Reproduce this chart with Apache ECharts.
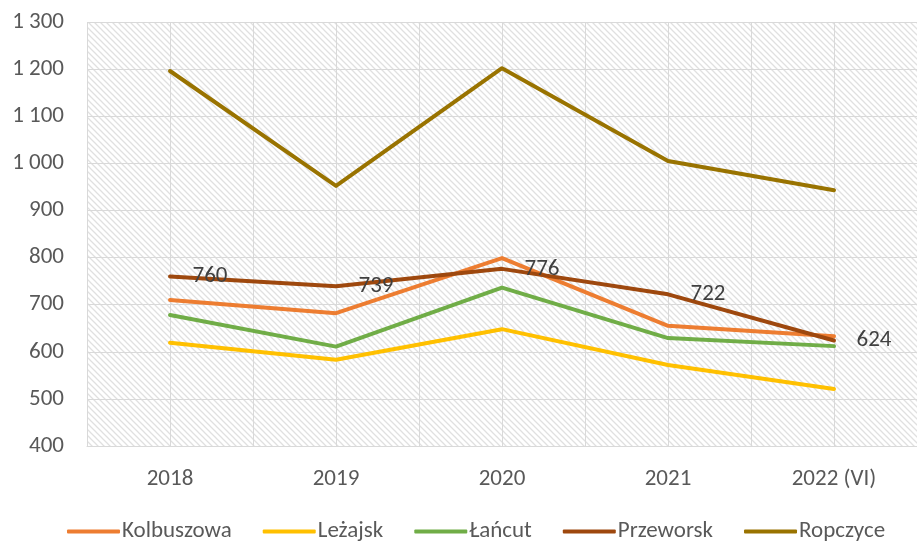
<!DOCTYPE html>
<html>
<head>
<meta charset="utf-8">
<script src="https://cdn.jsdelivr.net/npm/echarts@6/dist/echarts.min.js"></script>
<style>
  html, body { margin: 0; padding: 0; background: #fff; }
  #chart { width: 917px; height: 541px; }
</style>
</head>
<body>
<div id="chart"></div>
<script>
const years = ['2018', '2019', '2020', '2021', '2022 (VI)'];
const kolbuszowa = [710, 682, 799, 655, 633];
const lezajsk = [619, 583, 648, 572, 521];
const lancut = [678, 611, 736, 629, 612];
const przeworsk = [760, 739, 776, 722, 624];
const ropczyce = [1196, 952, 1202, 1005, 943];

const font = 'Carlito, Lato, "Liberation Sans", sans-serif';
const fsize = 23;

// ukośne kreskowanie tła wykresu
function hatch() {
  const c = document.createElement('canvas');
  c.width = 6; c.height = 6;
  const g = c.getContext('2d');
  g.fillStyle = '#fff';
  g.fillRect(0, 0, 6, 6);
  g.strokeStyle = '#e0e0e0';
  g.lineWidth = 1.3;
  g.beginPath();
  g.moveTo(-1, -1); g.lineTo(7, 7);
  g.moveTo(-4, 2); g.lineTo(4, 10);
  g.moveTo(2, -4); g.lineTo(10, 4);
  g.stroke();
  return { image: c, repeat: 'repeat' };
}

function line(name, data, color, z, labels) {
  return {
    name: name,
    type: 'line',
    data: data,
    z: z,
    symbol: 'circle',
    symbolSize: 1,
    showSymbol: true,
    lineStyle: { width: 4, color: color, cap: 'round', join: 'round' },
    itemStyle: { color: color },
    label: labels ? {
      show: true,
      position: 'right',
      distance: 22,
      fontSize: fsize,
      fontFamily: font,
      color: '#404040'
    } : { show: false }
  };
}

const chart = echarts.init(document.getElementById('chart'));
chart.setOption({
  animation: false,
  grid: {
    left: 87, right: -8, top: 22, bottom: 95,
    show: true, backgroundColor: hatch(), borderWidth: 0
  },
  legend: {
    bottom: -7,
    left: 62,
    itemWidth: 53,
    itemHeight: 4,
    itemGap: 31,
    icon: 'roundRect',
    textStyle: { fontSize: fsize, fontFamily: font, color: '#595959', padding: [0, 0, 0, -3] },
    data: ['Kolbuszowa', 'Leżajsk', 'Łańcut', 'Przeworsk', 'Ropczyce']
  },
  xAxis: [{
    type: 'category',
    data: years,
    boundaryGap: true,
    axisLine: { lineStyle: { color: '#d9d9d9', width: 1 } },
    axisTick: { show: false },
    axisLabel: { fontSize: fsize, fontFamily: font, color: '#595959', margin: 22 },
    splitLine: { show: true, interval: 0, lineStyle: { color: '#d9d9d9' } }
  }, {
    type: 'value',
    min: -0.5, max: 4.5, interval: 0.5,
    show: true,
    position: 'bottom',
    axisLine: { show: false },
    axisTick: { show: false },
    axisLabel: { show: false },
    splitLine: { show: true, lineStyle: { color: '#d9d9d9' } }
  }],
  yAxis: {
    type: 'value',
    min: 400, max: 1300, interval: 100,
    axisLine: { show: false },
    axisTick: { show: false },
    axisLabel: {
      fontSize: fsize, fontFamily: font, color: '#595959', margin: 23,
      formatter: v => v >= 1000 ? Math.floor(v / 1000) + ' ' + String(v % 1000).padStart(3, '0') : String(v)
    },
    splitLine: { lineStyle: { color: '#d9d9d9' } }
  },
  series: [
    line('Kolbuszowa', kolbuszowa, '#ED7D31', 2),
    line('Leżajsk', lezajsk, '#FFC000', 3),
    line('Łańcut', lancut, '#70AD47', 4),
    line('Przeworsk', przeworsk, '#9E480E', 5, true),
    line('Ropczyce', ropczyce, '#997300', 6)
  ]
});
</script>
</body>
</html>
